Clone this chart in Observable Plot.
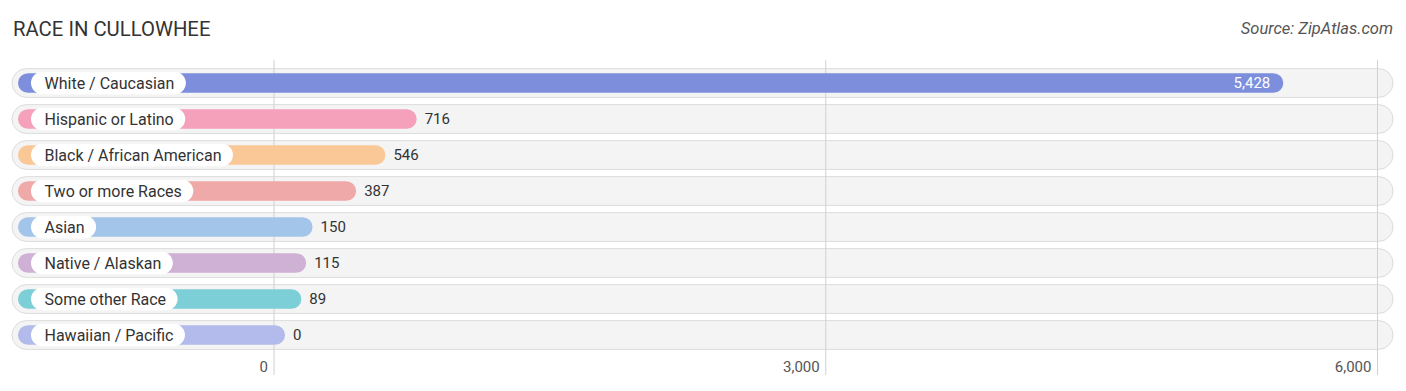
<!DOCTYPE html>
<html><head><meta charset="utf-8">
<script src="https://cdn.jsdelivr.net/npm/d3@7"></script>
<script src="https://cdn.jsdelivr.net/npm/@observablehq/plot@0.6"></script>
<style>
body{margin:0;background:#fff;font-family:Roboto,sans-serif;}
#header{position:relative;height:50px;width:1406px;}
#title{position:absolute;left:13px;top:19px;font-size:20.3px;line-height:20px;color:#333;}
#source{position:absolute;right:13px;top:21px;font-size:16.5px;line-height:16px;font-style:italic;color:#555;}
</style></head><body>
<div id="header"><div id="title">RACE IN CULLOWHEE</div><div id="source">Source: ZipAtlas.com</div></div>
<div id="chart"></div>
<script>
const categories = ["White / Caucasian","Hispanic or Latino","Black / African American","Two or more Races","Asian","Native / Alaskan","Some other Race","Hawaiian / Pacific"];
const values = [5428,716,546,387,150,115,89,0];
const colors = ["#7d8fdc","#f5a1bb","#f9c896","#f0a9a9","#a3c5ea","#ceb1d4","#7ccfd6","#b2bbeb"];
const tickValues = [0,3000,6000];
const tickLabels = ["0","3,000","6,000"];

const rows = categories.map((c,i)=>({category:c, value:values[i], color:colors[i]}));

const W = 1406, H = 341, mL = 273.5, mR = 29;
const ctx = document.createElement("canvas").getContext("2d");
ctx.font = "16px Roboto";
const fmt = d3.format(",");

const pillMarks = rows.map(r => {
  const pillRight = 44 + ctx.measureText(r.category).width + 12;
  return Plot.barX([r], {x1: () => 0, x2: () => 0, y: "category", fill: "white",
    rx: 11.5, insetTop: 6.65, insetBottom: 6.65, insetLeft: -(mL - 31), insetRight: mL - pillRight});
});

const chart = Plot.plot({
  width: W, height: H,
  marginLeft: mL, marginRight: mR, marginTop: 10, marginBottom: 16,
  style: {fontFamily: "Roboto, sans-serif", background: "white"},
  x: {axis: null, domain: [0, 6000]},
  y: {axis: null, domain: categories, range: [13.3, 304.2], padding: 0},
  marks: [
    Plot.barX(rows, {x1: () => 0, x2: () => 6000, y: "category", fill: "#f4f4f4", stroke: "#dcdcdc", strokeWidth: 1,
      rx: 14.5, insetTop: 3.6, insetBottom: 3.6, insetLeft: -(mL - 12), insetRight: -(1393 - (W - mR))}),
    Plot.ruleX(tickValues, {stroke: "#d0d0d0", strokeWidth: 1}),
    Plot.barX(rows, {x1: () => 0, x2: "value", y: "category", fill: "color",
      rx: 10, insetTop: 8.15, insetBottom: 8.15, insetLeft: -(mL - 18), insetRight: -11.5}),
    ...pillMarks,
    Plot.text(rows, {x: () => 0, y: "category", text: "category", textAnchor: "start", dx: 44 - mL, fill: "#333", fontSize: 16}),
    Plot.text(rows.filter(r => r.value > 3000), {x: "value", y: "category", text: d => fmt(d.value), textAnchor: "end", dx: -2, fill: "white", fontSize: 15}),
    Plot.text(rows.filter(r => r.value <= 3000), {x: "value", y: "category", text: d => fmt(d.value), textAnchor: "start", dx: 19, fill: "#333", fontSize: 15}),
    Plot.text(tickValues, {x: d => d, text: (d, i) => tickLabels[i], frameAnchor: "bottom", dy: -4, dx: -6, textAnchor: "end", fill: "#555", fontSize: 15})
  ]
});
document.getElementById("chart").appendChild(chart);
</script>
</body></html>
